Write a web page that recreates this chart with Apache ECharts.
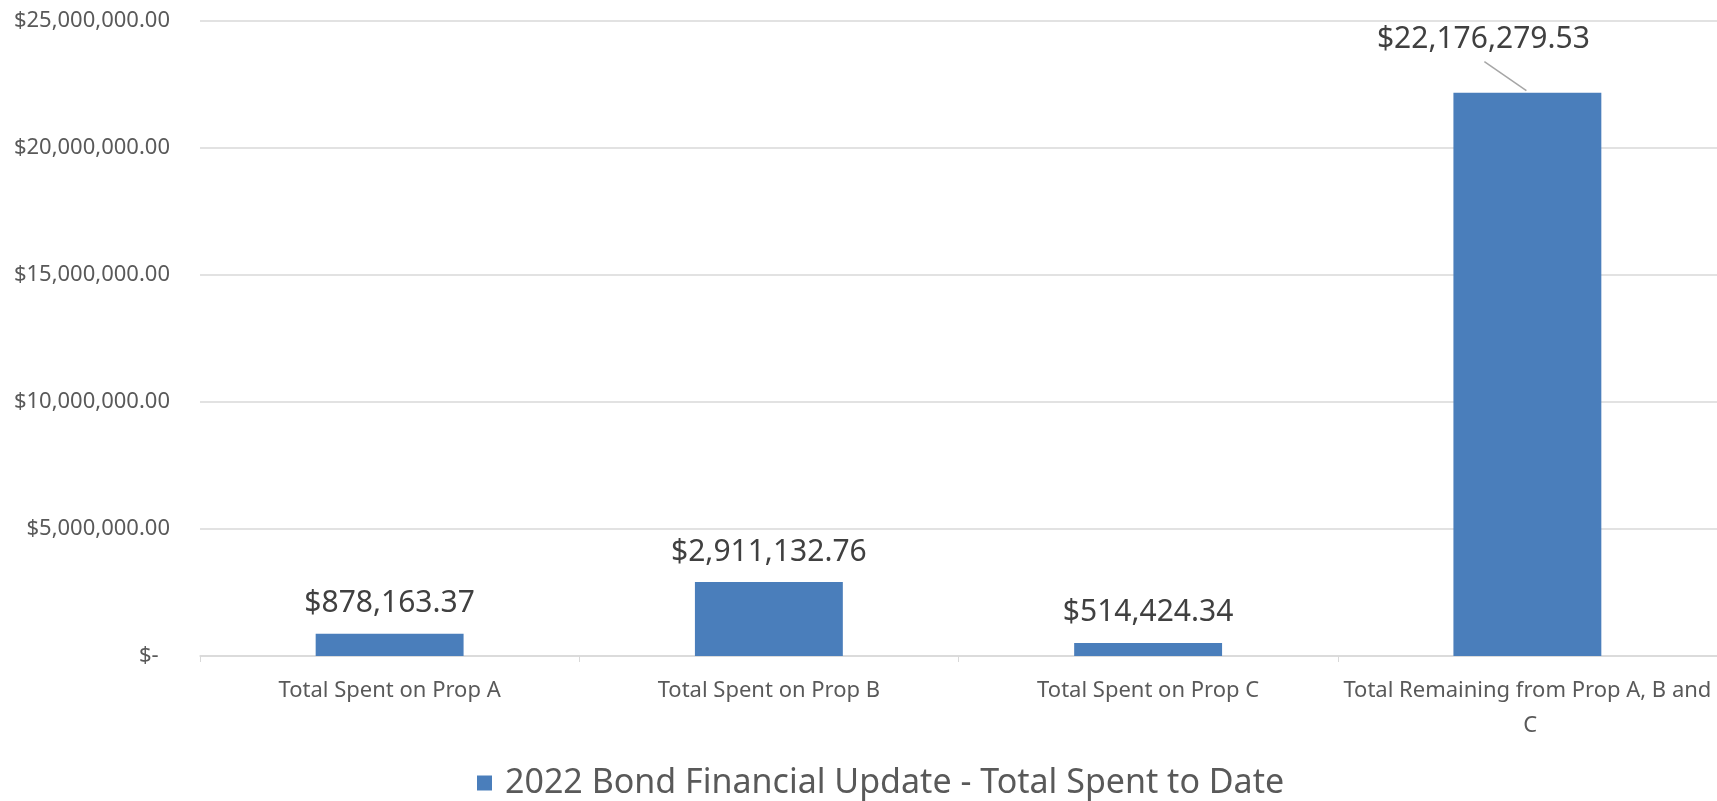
<!DOCTYPE html>
<html>
<head>
<meta charset="utf-8">
<style>
  html, body { margin: 0; padding: 0; background: #fff; }
  #chart { width: 1717px; height: 801px; }
</style>
<script src="https://cdn.jsdelivr.net/npm/echarts@6/dist/echarts.min.js"></script>
</head>
<body>
<div id="chart"></div>
<script>
const categories = [
  'Total Spent on Prop A',
  'Total Spent on Prop B',
  'Total Spent on Prop C',
  'Total Remaining from Prop A, B and C',
];
const spentValues = [878163.37, 2911132.76, 514424.34, 22176279.53];
const seriesName = '2022 Bond Financial Update - Total Spent to Date';

const font = '"Noto Sans", "Open Sans", sans-serif';

function money(v) {
  return '$' + v.toLocaleString('en-US', { minimumFractionDigits: 2, maximumFractionDigits: 2 });
}

const chart = echarts.init(document.getElementById('chart'));

// the last label is pushed up-left with a leader line, like the Excel original
const movedIndex = 3;
const moveDx = -44;
const moveDy = -23;

chart.setOption({
  animation: false,
  textStyle: { fontFamily: font },
  grid: {
    left: 200,
    right: 0,
    top: 21,
    bottom: 145,
    containLabel: false,
    outerBoundsMode: 'none',
  },
  legend: {
    data: [seriesName],
    left: 472,
    top: 761,
    icon: 'rect',
    itemWidth: 15,
    itemHeight: 15,
    textStyle: { fontSize: 34, color: '#595959', fontFamily: font, padding: [0, 0, 0, 8] },
  },
  xAxis: {
    type: 'category',
    data: categories,
    axisLine: { lineStyle: { color: '#d9d9d9', width: 1.5 } },
    axisTick: { show: true, length: 6, lineStyle: { color: '#d9d9d9' } },
    axisLabel: {
      color: '#595959',
      fontSize: 22,
      fontFamily: font,
      margin: 17,
      lineHeight: 35,
      width: 376,
      overflow: 'break',
      interval: 0,
    },
  },
  yAxis: {
    type: 'value',
    min: 0,
    max: 25000000,
    interval: 5000000,
    axisLine: { show: false },
    axisTick: { show: false },
    splitLine: { lineStyle: { color: '#d9d9d9', width: 1.5 } },
    axisLabel: {
      color: '#595959',
      fontSize: 22,
      fontFamily: font,
      margin: 30,
      formatter: (v) => (v === 0 ? '$-  ' : money(v)),
    },
  },
  series: [
    {
      name: seriesName,
      type: 'bar',
      barWidth: '39%',
      itemStyle: { color: '#4a7ebb' },
      label: {
        show: true,
        position: 'top',
        distance: 15,
        color: '#404040',
        fontSize: 30,
        fontFamily: font,
        formatter: (p) => money(p.value),
      },
      labelLayout: (params) =>
        params.dataIndex === movedIndex ? { dx: moveDx, dy: moveDy } : {},
      data: spentValues,
    },
  ],
});

// leader line from the moved label down to the top of its bar
const barTop = chart.convertToPixel({ gridIndex: 0 }, [categories[movedIndex], spentValues[movedIndex]]);
chart.setOption({
  graphic: [
    {
      type: 'line',
      shape: {
        x1: barTop[0] - 43,
        y1: barTop[1] - 31,
        x2: barTop[0] - 1,
        y2: barTop[1] - 2,
      },
      style: { stroke: '#a6a6a6', lineWidth: 1.5 },
      silent: true,
    },
  ],
});
</script>
</body>
</html>
